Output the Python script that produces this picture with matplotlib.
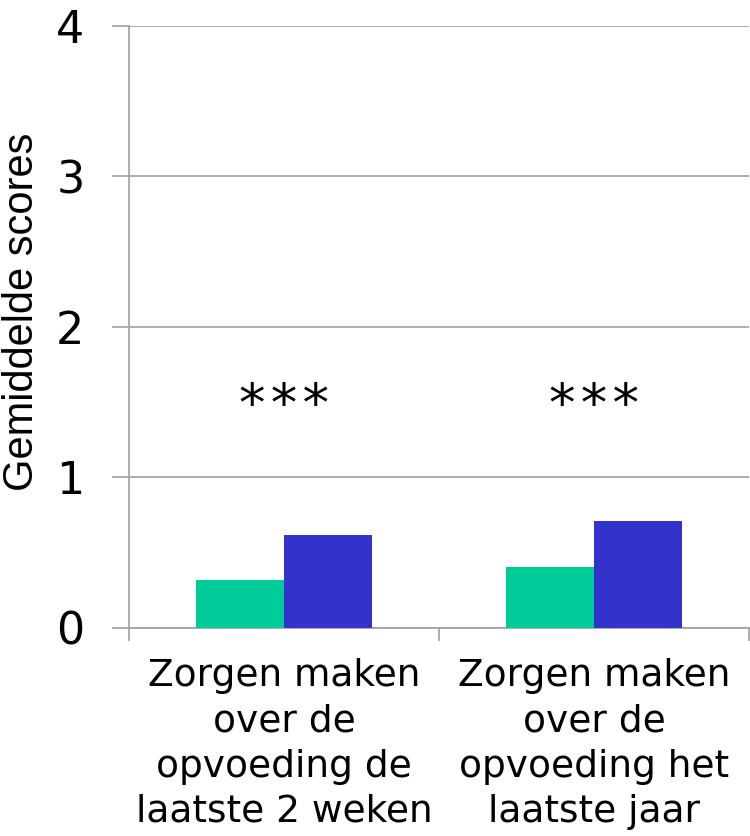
import matplotlib
matplotlib.use("Agg")
import matplotlib.pyplot as plt
import numpy as np

# gegevens
categories = ["Zorgen maken\nover de\nopvoeding de\nlaatste 2 weken",
              "Zorgen maken\nover de\nopvoeding het\nlaatste jaar"]
groep_a = [0.315, 0.401]
groep_b = [0.614, 0.707]
sterren = ["*\u200a*\u200a*", "*\u200a*\u200a*"]
ster_hoogte = 1.47
y_ticks = [0, 1, 2, 3, 4]

grijs = "#a0a0a0"

fig = plt.figure(figsize=(7.5, 8.36), dpi=100)
ax = fig.add_axes([0.172, 0.2492, 0.827, 0.7201])

x = np.arange(len(categories))
w = 0.284
ax.bar(x - w / 2, groep_a, width=w, color="#00cc99", zorder=3)
ax.bar(x + w / 2, groep_b, width=w, color="#3333cc", zorder=3)

for xi, s in zip(x, sterren):
    ax.text(xi, ster_hoogte, s, ha="center", va="center", fontsize=38)

ax.set_xlim(-0.5, 1.5)
ax.set_ylim(0, 4)
ax.set_yticks(y_ticks)
ax.set_yticklabels([str(t) for t in y_ticks], fontsize=32)
ax.grid(axis="y", color=grijs, linewidth=1.2, zorder=0)

ax.set_xticks(x)
ax.set_xticklabels(categories, fontsize=27, linespacing=1.33)
ax.set_xticks([-0.5, 0.5, 1.5], minor=True)
ax.tick_params(axis="x", which="major", length=0, pad=22)
ax.tick_params(axis="x", which="minor", length=9, color=grijs, width=1.2)
ax.tick_params(axis="y", length=12, color=grijs, width=1.2, pad=20)

for side in ["top", "right"]:
    ax.spines[side].set_visible(False)
ax.spines["left"].set_color(grijs)
ax.spines["bottom"].set_color(grijs)
ax.spines["left"].set_linewidth(1.2)
ax.spines["bottom"].set_linewidth(1.2)

ax.set_ylabel("Gemiddelde scores", fontsize=30, family="Liberation Sans")
ax.yaxis.set_label_coords(-0.14, 0.525)

fig.savefig("out.png", dpi=100)
